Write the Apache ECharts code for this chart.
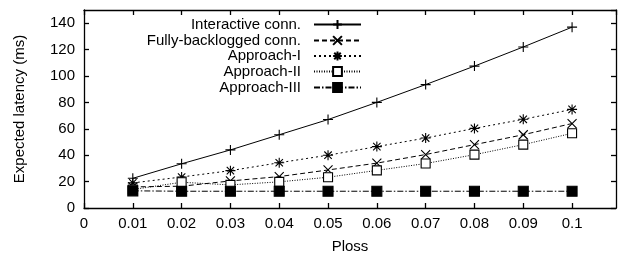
<!DOCTYPE html>
<html>
<head>
<meta charset="utf-8">
<script src="https://cdn.jsdelivr.net/npm/echarts@6/dist/echarts.min.js"></script>
<style>
  html, body { margin: 0; padding: 0; background: #fff; }
  #main { width: 619px; height: 259px; }
</style>
</head>
<body>
<div id="main"></div>
<script>
// ploss values on the x axis
const ploss = [0.01, 0.02, 0.03, 0.04, 0.05, 0.06, 0.07, 0.08, 0.09, 0.1];
// expected latency (ms)
const interactive = [22.5, 33.5, 44, 55.5, 67, 80, 93.5, 107.5, 122, 137];
const fullyBacklogged = [16, 16.5, 20.5, 23.8, 28.8, 34, 40.5, 48, 55.5, 64];
const approach1 = [19, 23.5, 28.3, 34.3, 40, 46.5, 53, 60.3, 67.2, 74.7];
const approach2 = [14, 19.5, 17.5, 19.8, 23.3, 28.5, 33.7, 40.4, 48, 56.6];
const approach3 = [13, 12.7, 12.7, 12.7, 12.7, 12.7, 12.7, 12.7, 12.7, 12.7];
const names = ['Interactive conn.', 'Fully-backlogged conn.', 'Approach-I', 'Approach-II', 'Approach-III'];

const FONT = 'Liberation Sans';
const FS = 15;
const plusPath = 'path://M5,0V10M0,5H10';
const crossPath = 'path://M0,0L10,10M10,0L0,10';
const starPath = 'path://M5,0V10M0,5H10M1.3,1.3L8.7,8.7M8.7,1.3L1.3,8.7';

function pairs(ys) {
    return ys.map((y, i) => [ploss[i], y]);
}

function mkSeries(name, ys, symbol, size, dash, fill) {
    return {
        name: name,
        type: 'line',
        data: pairs(ys),
        symbol: symbol,
        symbolSize: size,
        showAllSymbol: true,
        lineStyle: { color: '#000', width: 1, type: dash },
        itemStyle: { color: fill, borderColor: '#000', borderWidth: 1.1 },
        emphasis: { disabled: true },
        animation: false
    };
}

const legends = names.map((n, i) => ({
    data: [n],
    orient: 'vertical',
    right: 257,
    top: [17, 33, 48.5, 64, 80][i],
    align: 'right',
    itemWidth: 47,
    itemHeight: 11,
    padding: 0,
    selectedMode: false,
    textStyle: { fontFamily: FONT, fontSize: FS, color: '#000', padding: [0, 8, 0, 0] }
}));

const axisCommon = {
    axisLine: { show: true, onZero: false, lineStyle: { color: '#000', width: 1.3 } },
    axisTick: { show: true, inside: true, length: 5, lineStyle: { color: '#000', width: 1.3 } },
    splitLine: { show: false }
};

const xBase = { type: 'value', min: 0, max: 0.109, interval: 0.01 };
const yBase = { type: 'value', min: 0, max: 150, interval: 20 };

let chart = echarts.init(document.getElementById('main'));
chart.setOption({
    animation: false,
    grid: { left: 84, right: 3, top: 10, bottom: 47 },
    legend: legends,
    xAxis: [
        Object.assign({}, xBase, axisCommon, {
            position: 'bottom',
            name: 'Ploss',
            nameLocation: 'middle',
            nameGap: 31,
            nameTextStyle: { fontFamily: FONT, fontSize: FS, color: '#000' },
            axisLabel: {
                fontFamily: FONT, fontSize: FS, color: '#000', margin: 8,
                showMaxLabel: false,
                formatter: v => String(parseFloat(v.toFixed(2)))
            }
        }),
        Object.assign({}, xBase, axisCommon, {
            position: 'top',
            axisLabel: { show: false }
        })
    ],
    yAxis: [
        Object.assign({}, yBase, axisCommon, {
            position: 'left',
            name: 'Expected latency (ms)',
            nameLocation: 'middle',
            nameGap: 57,
            nameTextStyle: { fontFamily: FONT, fontSize: FS, color: '#000' },
            axisLabel: {
                fontFamily: FONT, fontSize: FS, color: '#000', margin: 9,
                showMaxLabel: false
            }
        }),
        Object.assign({}, yBase, axisCommon, {
            position: 'right',
            axisLabel: { show: false }
        })
    ],
    series: [
        mkSeries(names[0], interactive, plusPath, 10, 'solid', 'none'),
        mkSeries(names[1], fullyBacklogged, crossPath, 9, [5, 3], 'none'),
        mkSeries(names[2], approach1, starPath, 10, [2, 3], 'none'),
        mkSeries(names[3], approach2, 'rect', 9, [1, 1.5], '#fff'),
        mkSeries(names[4], approach3, 'rect', 10, [6, 2, 1.5, 2], '#000')
    ]
});
</script>
</body>
</html>
